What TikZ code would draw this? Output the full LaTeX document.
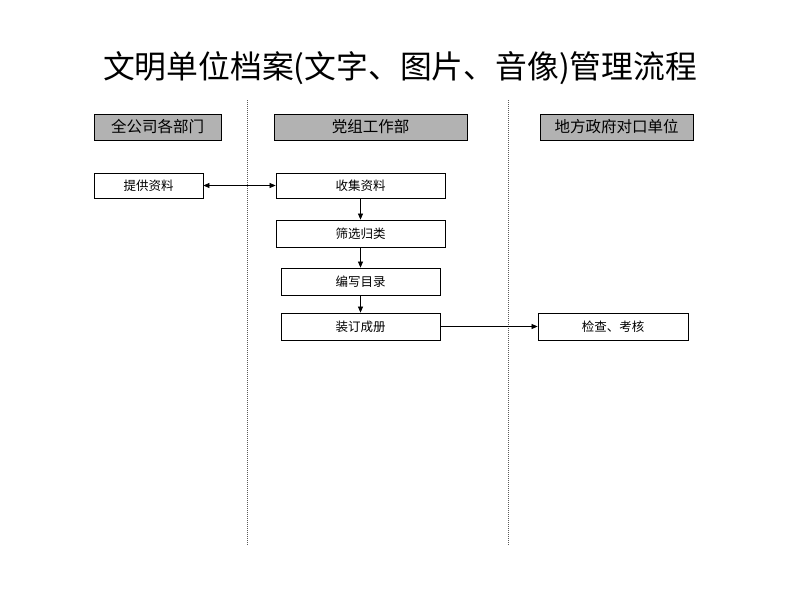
\documentclass[tikz,border=0pt]{standalone}
\usepackage{fontspec}
\setmainfont{Noto Sans CJK SC}
\usetikzlibrary{arrows.meta}
\definecolor{hdrgray}{HTML}{B2B2B2}
\begin{document}
\begin{tikzpicture}[x=1pt,y=-1pt,
  hdr/.style={draw=black,fill=hdrgray,line width=0.8pt,minimum height=26pt,inner sep=0pt,font=\fontsize{15.5}{17}\selectfont},
  proc/.style={draw=black,fill=white,line width=0.8pt,minimum height=26pt,inner sep=0pt,font=\fontsize{12.5}{14}\selectfont},
  lane/.style={draw=gray!70!black,dash pattern=on 1pt off 1pt,line width=0.6pt},
  flow/.style={draw=black,line width=0.7pt,-{Triangle[length=6pt,width=5pt]}}]
\useasboundingbox (0,0) rectangle (800,600);
% title
\node[font=\fontsize{31.8}{34}\selectfont] (title) at (400,68) {文明单位档案(文字、图片、音像)管理流程};
% lanes
\coordinate (l1t) at (247,100); \coordinate (l1b) at (247,546);
\coordinate (l2t) at (508,100); \coordinate (l2b) at (508,546);
\draw[lane] (l1t) -- (l1b);
\draw[lane] (l2t) -- (l2b);
% headers
\node[hdr,minimum width=127pt] (h1) at (157.5,127) {全公司各部门};
\node[hdr,minimum width=193pt] (h2) at (370.5,127) {党组工作部};
\node[hdr,minimum width=153pt] (h3) at (616.5,127) {地方政府对口单位};
% process
\node[proc,minimum width=109pt,minimum height=25pt] (p1) at (148.5,185.5) {提供资料};
\node[proc,minimum width=169pt,minimum height=25pt] (p2) at (360.5,185.5) {收集资料};
\node[proc,minimum width=169pt,minimum height=27pt] (p3) at (360.5,233.5) {筛选归类};
\node[proc,minimum width=159pt,minimum height=27pt] (p4) at (360.5,281.5) {编写目录};
\node[proc,minimum width=159pt,minimum height=27pt] (p5) at (360.5,326.5) {装订成册};
\node[proc,minimum width=150pt,minimum height=27pt] (p6) at (613,326.5) {检查、考核};
% connectors
\draw[flow,{Triangle[length=6pt,width=5pt]}-{Triangle[length=6pt,width=5pt]}] (p1) -- (p2);
\draw[flow] (p2) -- (p3);
\draw[flow] (p3) -- (p4);
\draw[flow] (p4) -- (p5);
\draw[flow] (p5) -- (p6);
\end{tikzpicture}
\end{document}
